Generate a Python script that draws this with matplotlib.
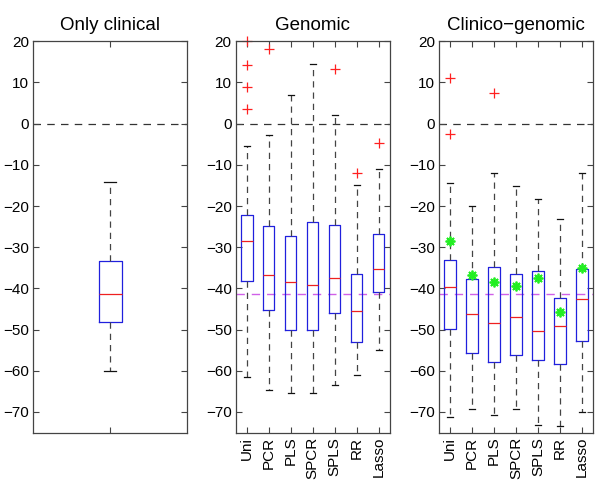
import matplotlib
matplotlib.use('Agg')
import matplotlib.pyplot as plt

plt.rcParams['font.family'] = ['Liberation Sans', 'DejaVu Sans']

methods = ['Uni', 'PCR', 'PLS', 'SPCR', 'SPLS', 'RR', 'Lasso']
titles = ['Only clinical', 'Genomic', 'Clinico\u2212genomic']

# only clinical: [lower whisker, Q1, median, Q3, upper whisker]
clin_box = [-60.1, -48.1, -41.3, -33.3, -14.1]
clin_ref = -41.3

# genomic
gen_low = [-61.6, -64.8, -65.4, -65.4, -63.4, -61.1, -55.0]
gen_q1 = [-38.2, -45.3, -50.2, -50.0, -45.9, -53.1, -41.0]
gen_med = [-28.6, -36.8, -38.4, -39.3, -37.4, -45.6, -35.2]
gen_q3 = [-22.2, -24.8, -27.3, -23.9, -24.7, -36.6, -26.7]
gen_high = [-5.4, -2.7, 7.0, 14.4, 2.2, -14.9, -11.1]
gen_out = [[20.0, 14.2, 8.8, 3.5], [18.1], [], [], [13.2], [-12.0], [-4.6]]

# clinico-genomic
cg_low = [-71.2, -69.3, -70.8, -69.4, -73.2, -73.4, -69.9]
cg_q1 = [-49.8, -55.6, -57.8, -56.3, -57.5, -58.4, -52.9]
cg_med = [-39.6, -46.3, -48.5, -47.0, -50.4, -49.1, -42.6]
cg_q3 = [-33.1, -37.7, -34.8, -36.6, -35.8, -42.3, -35.4]
cg_high = [-14.3, -20.0, -12.0, -15.1, -18.4, -23.2, -12.0]
cg_out = [[11.2, -2.4], [], [7.5], [], [], [], []]
cg_star = [-28.5, -36.7, -38.4, -39.4, -37.5, -45.7, -35.0]


def make_stats(low, q1, med, q3, high, out):
    stats = []
    for i in range(len(low)):
        stats.append({'whislo': low[i], 'q1': q1[i], 'med': med[i],
                      'q3': q3[i], 'whishi': high[i], 'fliers': out[i]})
    return stats


def draw_box(ax, stats, width):
    res = ax.bxp(stats, positions=range(1, len(stats) + 1), widths=width,
                 capwidths=width / 2, showfliers=True,
                 boxprops=dict(color='#2020dd', linewidth=0.9),
                 medianprops=dict(color='#ee2020', linewidth=0.9),
                 whiskerprops=dict(color='#444444', linestyle=(0, (5, 4)), linewidth=0.9),
                 capprops=dict(color='#111111', linewidth=0.9),
                 flierprops=dict(marker='+', markeredgecolor='#ff2020', markersize=6.5,
                                 markeredgewidth=0.9, linestyle='none'))
    for fl in res['fliers']:
        fl.set_clip_on(False)


fig = plt.figure(figsize=(6, 4.84), dpi=100)
lefts = [0.0555, 0.393, 0.7317]
axes = [fig.add_axes([l, 0.1064, 0.2565, 0.8083]) for l in lefts]

# panel 1
ax = axes[0]
draw_box(ax, make_stats(*[[v] for v in clin_box], [[]]), 0.15)
ax.set_xlim(0.5, 1.5)
ax.set_xticks([1])
ax.set_xticklabels([''])

# panel 2
ax = axes[1]
draw_box(ax, make_stats(gen_low, gen_q1, gen_med, gen_q3, gen_high, gen_out), 0.52)

# panel 3
ax = axes[2]
draw_box(ax, make_stats(cg_low, cg_q1, cg_med, cg_q3, cg_high, cg_out), 0.52)
ax.plot(range(1, len(cg_star) + 1), cg_star, linestyle='none', marker=(8, 2, 0),
        color='#22ee22', markeredgecolor='#22ee22', markersize=7, markeredgewidth=1.3)

for k, ax in enumerate(axes):
    ax.axhline(0, color='#333333', linestyle=(0, (6, 5)), linewidth=0.9, zorder=0)
    if k > 0:
        ax.axhline(clin_ref, color='#d060e8', linestyle=(0, (6, 5)), linewidth=1.0, zorder=0)
        ax.set_xlim(0.5, 7.5)
        ax.set_xticks(range(1, 8))
        ax.set_xticklabels(methods, rotation=90)
    ax.set_ylim(-75, 20)
    ax.set_yticks(range(-70, 21, 10))
    ax.set_yticklabels([str(v).replace('-', '\u2212') for v in range(-70, 21, 10)])
    ax.set_title(titles[k], fontsize=13.5, pad=8)
    ax.tick_params(direction='in', top=True, right=True, labelsize=11,
                   length=4, width=0.8, color='#444444', pad=3)
    for s in ax.spines.values():
        s.set_color('#444444')
        s.set_linewidth(0.9)

fig.savefig('out.png', dpi=100)
